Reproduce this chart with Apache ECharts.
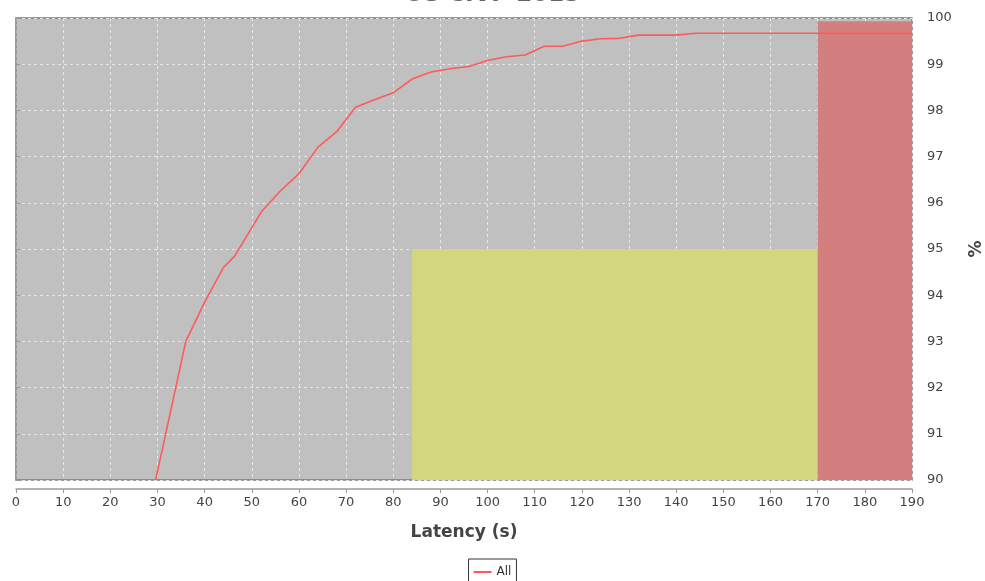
<!DOCTYPE html>
<html>
<head>
<meta charset="utf-8">
<script src="https://cdn.jsdelivr.net/npm/echarts@6/dist/echarts.min.js"></script>
<style>html,body{margin:0;padding:0;background:#fff;}#c{width:985px;height:581px;}</style>
</head>
<body>
<div id="c"></div>
<script>
var titleText = 'US CIVP 2015';
var seriesName = 'All';
var latency = [29.6, 32.6, 36, 40, 44, 46.4, 52, 56, 60, 64, 68, 72, 76, 80, 84, 88, 92, 96, 100, 104, 108, 112, 116, 120, 124, 128, 132, 136, 140, 144, 160, 190];
var percent = [90, 91.4, 93.0, 93.85, 94.6, 94.85, 95.8, 96.25, 96.63, 97.2, 97.54, 98.07, 98.23, 98.38, 98.68, 98.83, 98.9, 98.95, 99.08, 99.16, 99.2, 99.39, 99.39, 99.5, 99.55, 99.56, 99.63, 99.63, 99.63, 99.67, 99.67, 99.67];
var warnZone = {x0: 84, x1: 170, y0: 90, y1: 95};
var errZone = {x0: 170, x1: 190, y0: 90, y1: 99.93};
var xMin = 0, xMax = 190, xStep = 10;
var yMin = 90, yMax = 100, yStep = 1;

var data = latency.map(function (x, i) { return [x, percent[i]]; });
var chart = echarts.init(document.getElementById('c'));
chart.setOption({
  animation: false,
  title: {
    text: titleText, left: 'center', top: -21,
    textStyle: {fontFamily: 'DejaVu Sans', fontSize: 23, fontWeight: 'bold', color: '#666'}
  },
  grid: {
    left: 16, right: 73, top: 18, bottom: 101,
    outerBoundsMode: 'none', containLabel: false,
    show: true, backgroundColor: '#c0c0c0', borderColor: '#7a7a7a', borderWidth: 1.5
  },
  xAxis: {
    type: 'value', min: xMin, max: xMax, interval: xStep,
    offset: 9,
    name: 'Latency (s)', nameLocation: 'middle', nameGap: 35,
    nameTextStyle: {fontFamily: 'DejaVu Sans', fontSize: 17, fontWeight: 'bold', color: '#444'},
    axisLine: {show: true, lineStyle: {color: '#999', width: 1.5}},
    axisTick: {show: true, length: 4, lineStyle: {color: '#999'}},
    axisLabel: {fontFamily: 'DejaVu Sans', fontSize: 13, color: '#444', margin: 7},
    splitLine: {show: true, lineStyle: {color: '#e6e6e6', type: [3, 3], width: 1}}
  },
  yAxis: {
    type: 'value', position: 'right', min: yMin, max: yMax, interval: yStep,
    offset: 8,
    name: '%', nameLocation: 'middle', nameGap: 48, nameRotate: 90,
    nameTextStyle: {fontFamily: 'DejaVu Sans', fontSize: 17, fontWeight: 'bold', color: '#444'},
    axisLine: {show: true, lineStyle: {color: '#999', width: 1.5}},
    axisTick: {show: true, length: 4, lineStyle: {color: '#999'}},
    axisLabel: {fontFamily: 'DejaVu Sans', fontSize: 13, color: '#444', margin: 7},
    splitLine: {show: true, lineStyle: {color: '#e6e6e6', type: [3, 3], width: 1}}
  },
  legend: {
    bottom: -4, left: 'center',
    data: [seriesName],
    icon: 'rect', itemWidth: 18, itemHeight: 2, itemGap: 5,
    borderColor: '#333', borderWidth: 1, padding: [7, 5, 7, 5],
    textStyle: {fontFamily: 'DejaVu Sans', fontSize: 12, color: '#333'}
  },
  series: [{
    name: seriesName, type: 'line', data: data, showSymbol: false, symbol: 'none',
    lineStyle: {color: '#ff5a5a', width: 1.6}, itemStyle: {color: '#ff5a5a'},
    clip: true, z: 5,
    markArea: {
      silent: true,
      data: [
        [{coord: [warnZone.x0, warnZone.y0], itemStyle: {color: '#d4d67f', opacity: 1}}, {coord: [warnZone.x1, warnZone.y1]}],
        [{coord: [errZone.x0, errZone.y0], itemStyle: {color: '#d47f7f', opacity: 1}}, {coord: [errZone.x1, errZone.y1]}]
      ]
    }
  }]
});
</script>
</body>
</html>
